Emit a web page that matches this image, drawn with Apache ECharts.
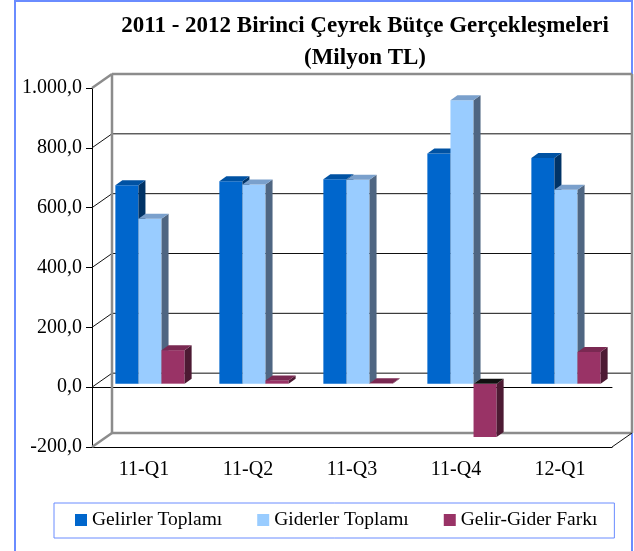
<!DOCTYPE html>
<html lang="tr">
<head>
  <meta charset="UTF-8">
  <title>Bütçe Gerçekleşmeleri</title>
  <style>
    html, body { margin: 0; padding: 0; background: #fff; }
    #main { width: 634px; height: 551px; }
  </style>
</head>
<body>
  <div id="main"></div>
</body>
<script src="https://cdnjs.cloudflare.com/ajax/libs/echarts/6.0.0/echarts.min.js"></script>
<script>
  const chart = echarts.init(document.getElementById('main'));

  // data (Milyon TL)
  const quarters = ['11-Q1', '11-Q2', '11-Q3', '11-Q4', '12-Q1'];
  const gelirler = [663, 677, 683, 769, 754];
  const giderler = [551, 666, 682, 947, 648];
  const fark = [112, 11, 1, -178, 106];
  const yTicks = [-200, 0, 200, 400, 600, 800, 1000];

  const serif = "'Liberation Serif', 'Times New Roman', serif";

  // fake 3d depth
  const WALL_DX = 20, WALL_DY = -14;
  const BAR_DX = 6, BAR_DY = -3.5;
  const SIDE_DX = 7, SIDE_DY = -5;

  function trNum(v) {
    const parts = Math.abs(v).toFixed(1).split('.');
    const a = parts[0].replace(/\B(?=(\d{3})+(?!\d))/g, '.');
    return (v < 0 ? '-' : '') + a + ',' + parts[1];
  }

  function renderWalls(params, api) {
    const cs = params.coordSys;
    const xl = cs.x, xr = cs.x + cs.width;
    const gray = { stroke: '#8c8c8c', lineWidth: 2.5 };
    const dark = { stroke: '#111', lineWidth: 1 };
    const children = [];
    yTicks.forEach(function (v, i) {
      const y = api.coord([0, v])[1];
      const st = (i === 0 || i === yTicks.length - 1) ? gray : dark;
      children.push({ type: 'line', shape: { x1: xl, y1: y, x2: xl + WALL_DX, y2: y + WALL_DY }, style: st });
      children.push({ type: 'line', shape: { x1: xl + WALL_DX, y1: y + WALL_DY, x2: xr + WALL_DX, y2: y + WALL_DY }, style: st });
    });
    const yTop = api.coord([0, yTicks[yTicks.length - 1]])[1] + WALL_DY;
    const yBot = api.coord([0, yTicks[0]])[1];
    children.push({ type: 'line', shape: { x1: xl + WALL_DX, y1: yTop, x2: xl + WALL_DX, y2: yBot + WALL_DY }, style: gray });
    children.push({ type: 'line', shape: { x1: xr + WALL_DX, y1: yTop, x2: xr + WALL_DX, y2: yBot + WALL_DY }, style: gray });
    children.push({ type: 'line', shape: { x1: xr, y1: yBot, x2: xr + WALL_DX, y2: yBot + WALL_DY }, style: dark });
    return { type: 'group', children: children };
  }

  function barRenderer(slot, cols) {
    return function (params, api) {
      const i = api.value(0), v = api.value(1);
      const band = api.size([1, 0])[0];
      const bw = band * 0.222;
      const base = api.coord([i, 0]);
      const tip = api.coord([i, v]);
      const x0 = base[0] - band / 2 + (band - 3 * bw) / 2 + slot * bw + BAR_DX;
      const yA = base[1] + BAR_DY, yB = tip[1] + BAR_DY;
      const yT = Math.min(yA, yB), yD = Math.max(yA, yB);
      return {
        type: 'group',
        children: [
          { type: 'rect', shape: { x: x0, y: yT, width: bw, height: yD - yT }, style: { fill: cols[0] } },
          { type: 'polygon', shape: { points: [[x0 + bw, yT], [x0 + bw + SIDE_DX, yT + SIDE_DY], [x0 + bw + SIDE_DX, yD + SIDE_DY], [x0 + bw, yD]] }, style: { fill: cols[2] } },
          { type: 'polygon', shape: { points: [[x0, yT], [x0 + bw, yT], [x0 + bw + SIDE_DX, yT + SIDE_DY], [x0 + SIDE_DX, yT + SIDE_DY]] }, style: { fill: v < 0 ? '#111' : cols[1] } }
        ]
      };
    };
  }

  function pairs(arr) {
    return arr.map(function (v, i) { return [i, v]; });
  }

  const option = {
    animation: false,
    backgroundColor: '#fff',
    graphic: [{
      type: 'rect',
      shape: { x: 15, y: 1, width: 617, height: 600 },
      style: { fill: 'none', stroke: '#6a8cff', lineWidth: 2 },
      silent: true
    }],
    title: {
      text: '2011 - 2012 Birinci Çeyrek Bütçe Gerçekleşmeleri\n(Milyon TL)',
      left: 365,
      top: 10,
      padding: 0,
      textAlign: 'center',
      textStyle: { fontFamily: serif, fontWeight: 'bold', fontSize: 23, lineHeight: 32, color: '#000' }
    },
    legend: {
      left: 54,
      top: 503,
      padding: [7, 17, 8, 21],
      itemWidth: 12,
      itemHeight: 12,
      itemGap: 35,
      icon: 'rect',
      borderColor: '#6a8cff',
      borderWidth: 1,
      textStyle: { fontFamily: serif, fontSize: 19.5, color: '#000' },
      data: ['Gelirler Toplamı', 'Giderler Toplamı', 'Gelir-Gider Farkı']
    },
    grid: { left: 92, right: 22, top: 88, bottom: 104 },
    xAxis: [{
      type: 'category',
      data: quarters,
      position: 'bottom',
      axisLine: { onZero: true, lineStyle: { color: '#000' } },
      axisTick: { length: 6, lineStyle: { color: '#000' } },
      axisLabel: { show: false }
    }, {
      type: 'category',
      data: quarters,
      position: 'bottom',
      axisLine: { onZero: false, lineStyle: { color: '#000' } },
      axisTick: { length: 6, lineStyle: { color: '#000' } },
      axisLabel: { fontFamily: serif, fontSize: 20, color: '#000', margin: 13 }
    }],
    yAxis: {
      type: 'value',
      min: -200,
      max: 1000,
      interval: 200,
      axisLine: { show: true, lineStyle: { color: '#000' } },
      axisTick: { show: true, length: 6, lineStyle: { color: '#000' } },
      splitLine: { show: false },
      axisLabel: { fontFamily: serif, fontSize: 20, color: '#000', margin: 10, formatter: trNum }
    },
    series: [{
      type: 'custom',
      name: 'walls',
      silent: true,
      z: 1,
      renderItem: renderWalls,
      data: [[0, 0]]
    }, {
      type: 'custom',
      name: 'Gelirler Toplamı',
      z: 3,
      itemStyle: { color: '#0066cc' },
      renderItem: barRenderer(0, ['#0066cc', '#0052a3', '#003366']),
      data: pairs(gelirler)
    }, {
      type: 'custom',
      name: 'Giderler Toplamı',
      z: 4,
      itemStyle: { color: '#99ccff' },
      renderItem: barRenderer(1, ['#99ccff', '#7aa0cc', '#4f6682']),
      data: pairs(giderler)
    }, {
      type: 'custom',
      name: 'Gelir-Gider Farkı',
      z: 5,
      itemStyle: { color: '#993366' },
      renderItem: barRenderer(2, ['#993366', '#7a2952', '#4d1a33']),
      data: pairs(fark)
    }]
  };

  chart.setOption(option);
</script>
</html>
